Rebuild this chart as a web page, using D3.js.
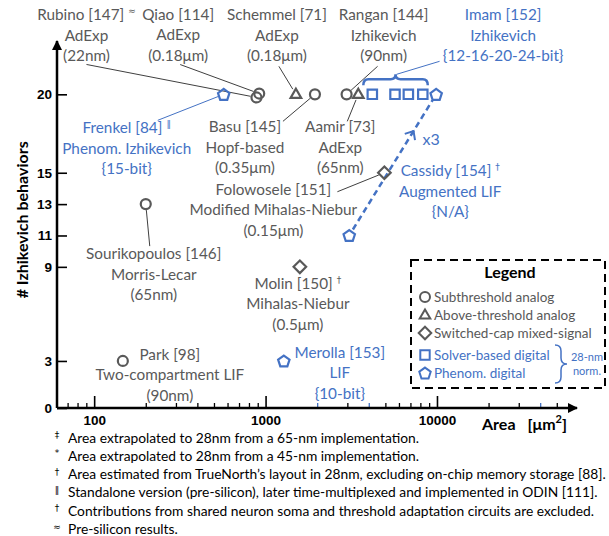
<!DOCTYPE html>
<html>
<head>
<meta charset="utf-8">
<script src="https://cdn.jsdelivr.net/npm/d3@7"></script>
<style>
  body { margin: 0; background: #fff; }
  svg { font-family: Lato, 'Open Sans', sans-serif; }
</style>
</head>
<body>
<svg id="canvas" width="609" height="536"></svg>
<script>
// neuron designs, values
let names = ['Rubino [147]', 'Qiao [114]', 'Schemmel [71]', 'Basu [145]', 'Rangan [144]', 'Aamir [73]',
             'Imam [152]', 'Imam [152]', 'Imam [152]', 'Imam [152]', 'Imam [152]',
             'Frenkel [84]', 'Cassidy [154]', 'Folowosele [151]', 'Sourikopoulos [146]',
             'Molin [150]', 'Park [98]', 'Merolla [153]']
let areas = [885, 918, 1503, 1941, 2970, 3475, 4195, 5690, 6808, 8265, 9890, 570, 3077, 4934, 200, 1585, 147, 1278]
let behaviors = [19.8, 20.05, 20, 20, 20, 20, 20, 20, 20, 20, 20, 20, 11, 15, 13, 9, 3, 3]
let kinds = ['sub', 'sub', 'above', 'sub', 'sub', 'above', 'solver', 'solver', 'solver', 'solver', 'phenom',
             'phenom', 'phenom', 'switched', 'sub', 'switched', 'sub', 'phenom']

let xTicks = [100, 1000, 10000]
let yTicks = [0, 3, 9, 11, 13, 15, 20]

let legendKinds = ['sub', 'above', 'switched', 'solver', 'phenom']
let legendNames = ['Subthreshold analog', 'Above-threshold analog', 'Switched-cap mixed-signal',
                   'Solver-based digital', 'Phenom. digital']

let footSymbols = ['‡', '*', '†', '‖', '†', '≈']
let footTexts = [
  'Area extrapolated to 28nm from a 65-nm implementation.',
  'Area extrapolated to 28nm from a 45-nm implementation.',
  'Area estimated from TrueNorth\u2019s layout in 28nm, excluding on-chip memory storage [88].',
  'Standalone version (pre-silicon), later time-multiplexed and implemented in ODIN [111].',
  'Contributions from shared neuron soma and threshold adaptation circuits are excluded.',
  'Pre-silicon results.'
]

// annotation layout: point index, text lines, offset of label from marker, leader start offset
let notes = [
  { i: 0, lines: ['Rubino [147]', 'AdExp', '(22nm)'], sup: '≈', dx: -170, dy: -82, lead: [-170, -33] },
  { i: 1, lines: ['Qiao [114]', 'AdExp', '(0.18\u03bcm)'], dx: -81, dy: -79, lead: [-79, -29] },
  { i: 2, lines: ['Schemmel [71]', 'AdExp', '(0.18\u03bcm)'], dx: -19, dy: -79, lead: [-17, -28] },
  { i: 4, lines: ['Rangan [144]', 'Izhikevich', '(90nm)'], dx: 37, dy: -79, lead: [31, -28] },
  { i: 10, lines: ['Imam [152]', 'Izhikevich', '{12-16-20-24-bit}'], dx: 67, dy: -79 },
  { i: 11, lines: ['Frenkel [84]', 'Phenom. Izhikevich', '{15-bit}'], sup: '\u2016', dx: -97, dy: 34, lead: [-66, 26] },
  { i: 3, lines: ['Basu [145]', 'Hopf-based', '(0.35\u03bcm)'], dx: -70, dy: 33, lead: [-32, 27] },
  { i: 5, lines: ['Aamir [73]', 'AdExp', '(65nm)'], dx: -18, dy: 33, lead: [-11, 27] },
  { i: 13, lines: ['Folowosele [151]', 'Modified Mihalas-Niebur', '(0.15\u03bcm)'], dx: -111, dy: 17, lead: [-47, 19] },
  { i: 12, lines: ['Cassidy [154]', 'Augmented LIF', '{N/A}'], sup: '†', dx: 101, dy: -64 },
  { i: 14, lines: ['Sourikopoulos [146]', 'Morris-Lecar', '(65nm)'], dx: 8, dy: 50, lead: [4, 42] },
  { i: 15, lines: ['Molin [150]', 'Mihalas-Niebur', '(0.5\u03bcm)'], sup: '†', dx: -2, dy: 17 },
  { i: 16, lines: ['Park [98]', 'Two-compartment LIF', '(90nm)'], dx: 47, dy: -6 },
  { i: 17, lines: ['Merolla [153]', 'LIF', '{10-bit}'], dx: 56, dy: -8 }
]

let gray = '#595959'
let blue = '#4472C4'
let symbolFont = "'DejaVu Sans', sans-serif"
let colorOf = (kind) => (kind === 'solver' || kind === 'phenom') ? blue : gray

let canvas = d3.select('#canvas')

let x = d3.scaleLog().domain([60.7, 65600]).range([57, 577])
let y = d3.scaleLinear().domain([0, 23.4]).range([408, 41])

let shapePath = (kind) => {
  let p = d3.path()
  if (kind === 'sub') {
    p.moveTo(5, 0); p.arc(0, 0, 5, 0, 2 * Math.PI)
  } else if (kind === 'above') {
    p.moveTo(0, -5.6); p.lineTo(5.3, 3.6); p.lineTo(-5.3, 3.6); p.closePath()
  } else if (kind === 'switched') {
    p.moveTo(0, -6.3); p.lineTo(6.3, 0); p.lineTo(0, 6.3); p.lineTo(-6.3, 0); p.closePath()
  } else if (kind === 'solver') {
    p.rect(-4.7, -4.7, 9.4, 9.4)
  } else {
    for (let k = 0; k < 5; k++) {
      let a = -Math.PI / 2 + k * 2 * Math.PI / 5
      if (k === 0) p.moveTo(6 * Math.cos(a), 6 * Math.sin(a) + 0.6)
      else p.lineTo(6 * Math.cos(a), 6 * Math.sin(a) + 0.6)
    }
    p.closePath()
  }
  return p.toString()
}

// arrow heads
let defs = canvas.append('defs')
defs.append('marker')
    .attr('id', 'arrow')
    .attr('viewBox', '0 0 10 10')
    .attr('refX', 9).attr('refY', 5)
    .attr('markerWidth', 4).attr('markerHeight', 4)
    .attr('markerUnits', 'strokeWidth')
    .attr('orient', 'auto')
    .append('path')
    .attr('d', 'M0,0 L10,5 L0,10 Z')
    .attr('fill', '#000')

// axes
let minorTicks = []
;[10, 100, 1000, 10000].forEach((d) => {
  for (let k = 2; k <= 9; k++) minorTicks.push(d * k)
})
minorTicks = minorTicks.filter((v) => v > 62 && v < 60000)
let blueTicks = [2000, 4000, 40000]

canvas.append('g')
      .attr('transform', 'translate(0,' + y(0) + ')')
      .call(d3.axisBottom(x).tickValues(minorTicks).tickSizeInner(-5).tickSizeOuter(0).tickFormat(''))
      .call((g) => g.select('.domain').remove())
      .call((g) => g.selectAll('line').attr('stroke-width', 1.3)
                    .attr('stroke', (d) => blueTicks.includes(d) ? blue : '#000'))

canvas.append('g')
      .attr('transform', 'translate(0,' + y(0) + ')')
      .call(d3.axisBottom(x).tickValues(xTicks).tickSizeInner(-12).tickSizeOuter(0).tickPadding(7).tickFormat(d3.format('d')))
      .call((g) => g.select('.domain').remove())
      .call((g) => g.selectAll('line').attr('stroke-width', 1.6))
      .call((g) => g.selectAll('text').attr('font-size', 13.5).attr('font-weight', 'bold').attr('fill', '#000'))

canvas.append('g')
      .attr('transform', 'translate(' + x.range()[0] + ',0)')
      .call(d3.axisLeft(y).tickValues(yTicks).tickSizeInner(-10).tickSizeOuter(0).tickPadding(5))
      .call((g) => g.select('.domain').remove())
      .call((g) => g.selectAll('line').attr('stroke-width', 1.6))
      .call((g) => g.selectAll('text').attr('font-size', 13.5).attr('font-weight', 'bold').attr('fill', '#000'))

canvas.append('line')
      .attr('x1', x.range()[0]).attr('y1', y(0))
      .attr('x2', x.range()[1]).attr('y2', y(0))
      .attr('stroke', '#000').attr('stroke-width', 2.5)
      .attr('marker-end', 'url(#arrow)')
canvas.append('line')
      .attr('x1', x.range()[0]).attr('y1', y(0))
      .attr('x2', x.range()[0]).attr('y2', y.range()[1])
      .attr('stroke', '#000').attr('stroke-width', 2.5)
      .attr('marker-end', 'url(#arrow)')

canvas.append('text')
      .attr('transform', 'translate(21,' + y(12) + ') rotate(-90)')
      .attr('text-anchor', 'middle')
      .attr('dominant-baseline', 'central')
      .attr('font-size', 16).attr('font-weight', 'bold')
      .text('# Izhikevich behaviors')

let areaLabel = canvas.append('text')
      .attr('x', 482).attr('y', 423)
      .attr('dominant-baseline', 'central')
      .attr('font-size', 16).attr('font-weight', 'bold')
areaLabel.append('tspan').text('Area')
areaLabel.append('tspan').attr('dx', 12).text('[\u03bcm')
areaLabel.append('tspan').attr('font-size', 11).attr('dy', -5).text('2')
areaLabel.append('tspan').attr('dy', 5).text(']')

// leader lines
let px = (i) => x(areas[i])
let py = (i) => y(behaviors[i])

notes.filter((n) => n.lead).forEach((n) => {
  let x0 = px(n.i) + n.lead[0]
  let y0 = py(n.i) + n.lead[1]
  let ddx = px(n.i) - x0
  let ddy = py(n.i) - y0
  let len = Math.sqrt(ddx * ddx + ddy * ddy)
  let cut = (len - 6) / len
  canvas.append('line')
        .attr('x1', x0).attr('y1', y0)
        .attr('x2', x0 + ddx * cut).attr('y2', y0 + ddy * cut)
        .attr('stroke', colorOf(kinds[n.i]) === blue ? blue : '#404040')
        .attr('stroke-width', 1)
})

// brace over the Imam markers
let bx0 = px(6) - 9
let bx1 = px(9) + 5
let by = py(6) - 15
let bm = (bx0 + bx1) / 2
canvas.append('path')
      .attr('d', 'M' + bx0 + ',' + (by + 6) + ' Q' + bx0 + ',' + by + ' ' + (bx0 + 5) + ',' + by +
                 ' L' + (bm - 5) + ',' + by + ' Q' + bm + ',' + by + ' ' + bm + ',' + (by - 5) +
                 ' Q' + bm + ',' + by + ' ' + (bm + 5) + ',' + by +
                 ' L' + (bx1 - 5) + ',' + by + ' Q' + bx1 + ',' + by + ' ' + bx1 + ',' + (by + 6))
      .attr('fill', 'none').attr('stroke', blue).attr('stroke-width', 2.5)
canvas.append('line')
      .attr('x1', bm + 1).attr('y1', by - 5)
      .attr('x2', bm + 44).attr('y2', by - 18)
      .attr('stroke', blue).attr('stroke-width', 1)

// dashed x3 arrow from Cassidy to Imam
let ax0 = px(12), ay0 = py(12), ax1 = px(10), ay1 = py(10)
let alen = Math.sqrt((ax1 - ax0) ** 2 + (ay1 - ay0) ** 2)
let ux = (ax1 - ax0) / alen, uy = (ay1 - ay0) / alen
canvas.append('line')
      .attr('x1', ax0 + ux * 7).attr('y1', ay0 + uy * 7)
      .attr('x2', ax1 - ux * 7).attr('y2', ay1 - uy * 7)
      .attr('stroke', blue).attr('stroke-width', 2.5)
      .attr('stroke-dasharray', '6,4')
let hx = ax0 + (ax1 - ax0) * 0.74, hy = ay0 + (ay1 - ay0) * 0.74
canvas.append('path')
      .attr('d', 'M' + (hx - ux * 7 - uy * 6) + ',' + (hy - uy * 7 + ux * 6) + ' L' + hx + ',' + hy +
                 ' L' + (hx - ux * 7 + uy * 6) + ',' + (hy - uy * 7 - ux * 6))
      .attr('fill', 'none').attr('stroke', blue).attr('stroke-width', 2)
canvas.append('text')
      .attr('x', hx + 9).attr('y', hy + 7)
      .attr('dominant-baseline', 'central')
      .attr('font-size', 16).attr('fill', blue)
      .text('x3')

// markers
let markers = canvas.selectAll('.mark')
                    .data(areas.map((a, i) => i))
                    .enter()
                    .append('path')
                    .attr('class', 'mark')
                    .attr('transform', (i) => 'translate(' + px(i) + ',' + py(i) + ')')
                    .attr('d', (i) => shapePath(kinds[i]))
                    .attr('fill', 'none')
                    .attr('stroke', (i) => colorOf(kinds[i]))
                    .attr('stroke-width', 2.2)

// labels
notes.forEach((n) => {
  let t = canvas.append('text')
                .attr('text-anchor', 'middle')
                .attr('font-size', 15.3)
                .attr('fill', colorOf(kinds[n.i]))
  n.lines.forEach((line, k) => {
    t.append('tspan')
     .attr('x', px(n.i) + n.dx)
     .attr('y', py(n.i) + n.dy + k * 20.5 + 5)
     .text(line)
    if (k === 0 && n.sup) {
      t.append('tspan').attr('font-size', 9).attr('font-family', symbolFont)
       .attr('dx', 4).attr('dy', -6).text(n.sup)
    }
  })
})

// legend
let lg = canvas.append('g').attr('transform', 'translate(411,260)')
lg.append('rect')
  .attr('width', 194).attr('height', 128)
  .attr('fill', '#fff').attr('stroke', '#000').attr('stroke-width', 2)
  .attr('stroke-dasharray', '8,5')
lg.append('text')
  .attr('x', 99).attr('y', 11)
  .attr('text-anchor', 'middle').attr('dominant-baseline', 'central')
  .attr('font-size', 16).attr('font-weight', 'bold')
  .text('Legend')
let legendY = [37, 55, 73, 95, 113]
legendKinds.forEach((k, j) => {
  lg.append('path')
    .attr('transform', 'translate(14,' + legendY[j] + ')')
    .attr('d', shapePath(k))
    .attr('fill', 'none').attr('stroke', colorOf(k)).attr('stroke-width', 2)
  lg.append('text')
    .attr('x', 23).attr('y', legendY[j])
    .attr('dominant-baseline', 'central')
    .attr('font-size', 13.5).attr('fill', colorOf(k))
    .text(legendNames[j])
})
lg.append('path')
  .attr('d', 'M144,85 Q150,85 150,91 L150,98 Q150,104 156,104 Q150,104 150,110 L150,117 Q150,123 144,123')
  .attr('fill', 'none').attr('stroke', blue).attr('stroke-width', 1.5)
lg.append('text')
  .attr('x', 176).attr('y', 96)
  .attr('text-anchor', 'middle').attr('dominant-baseline', 'central')
  .attr('font-size', 11).attr('fill', blue)
  .text('28-nm')
lg.append('text')
  .attr('x', 176).attr('y', 110)
  .attr('text-anchor', 'middle').attr('dominant-baseline', 'central')
  .attr('font-size', 11).attr('fill', blue)
  .text('norm.')

// footnotes
footTexts.forEach((f, j) => {
  canvas.append('text')
        .attr('x', 57).attr('y', 435 + j * 18.3)
        .attr('text-anchor', 'middle').attr('dominant-baseline', 'central')
        .attr('font-size', 9).attr('font-family', symbolFont).attr('fill', '#000')
        .text(footSymbols[j])
  canvas.append('text')
        .attr('x', 68).attr('y', 437 + j * 18.3)
        .attr('dominant-baseline', 'central')
        .attr('font-size', 13.8).attr('fill', '#000')
        .text(f)
})
</script>
</body>
</html>
